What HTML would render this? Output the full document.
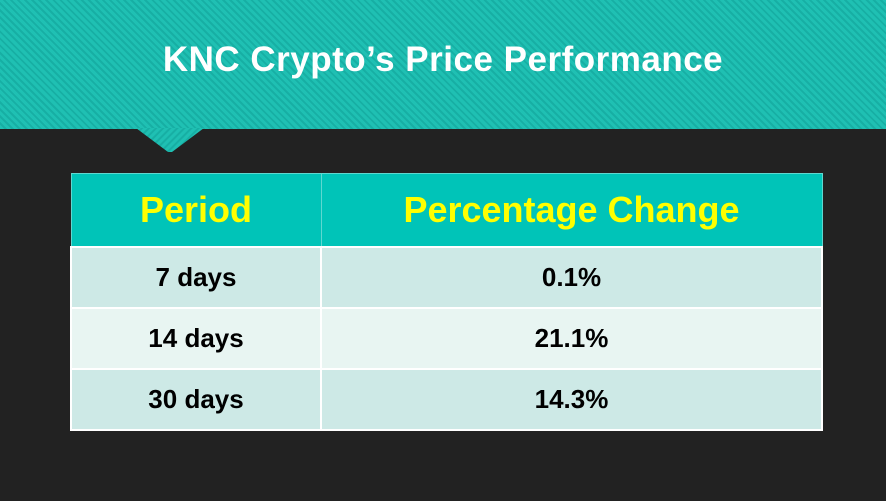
<!DOCTYPE html>
<html><head><meta charset="utf-8"><style>
body{margin:0;width:886px;height:501px;background:#222222;overflow:hidden;font-family:"Liberation Sans",sans-serif;position:relative}
#band{position:absolute;left:0;top:0;width:886px;height:129px;background:repeating-linear-gradient(45deg,#1fc0b3 0 3px,#17afa4 3px 5px)}
#title{position:absolute;left:0;top:40px;width:886px;text-align:center;color:#fff;font-size:35px;font-weight:bold;letter-spacing:0.5px}
#tri{position:absolute;left:0;top:0}
table{position:absolute;left:70px;top:173px;width:753px;border-collapse:collapse;border:1px solid #ddd}
td,th{border:2px solid #fff;text-align:center;padding:0}
th{background:#00c4b8;color:#ffff00;font-size:36px;height:72px;border-color:#5fd8d0;border-width:1px}
th.p{width:249px}
td{font-size:26px;font-weight:bold;color:#000;height:59px}
tr.a td{background:#cde9e6}
tr.b td{background:#e8f5f2}
</style></head><body>
<div id="band"></div>
<svg id="tri" width="886" height="160"><defs><pattern id="st" width="5" height="5" patternUnits="userSpaceOnUse" patternTransform="rotate(45)"><rect width="5" height="5" fill="#1fc0b3"/><rect width="2" height="5" fill="#17afa4"/></pattern></defs><polygon points="136,128 204,128 172,152 168,152" fill="url(#st)"/></svg>
<div id="title">KNC Crypto’s Price Performance</div>
<table>
<tr><th class="p">Period</th><th>Percentage Change</th></tr>
<tr class="a"><td>7 days</td><td>0.1%</td></tr>
<tr class="b"><td>14 days</td><td>21.1%</td></tr>
<tr class="a"><td>30 days</td><td>14.3%</td></tr>
</table>
</body></html>
